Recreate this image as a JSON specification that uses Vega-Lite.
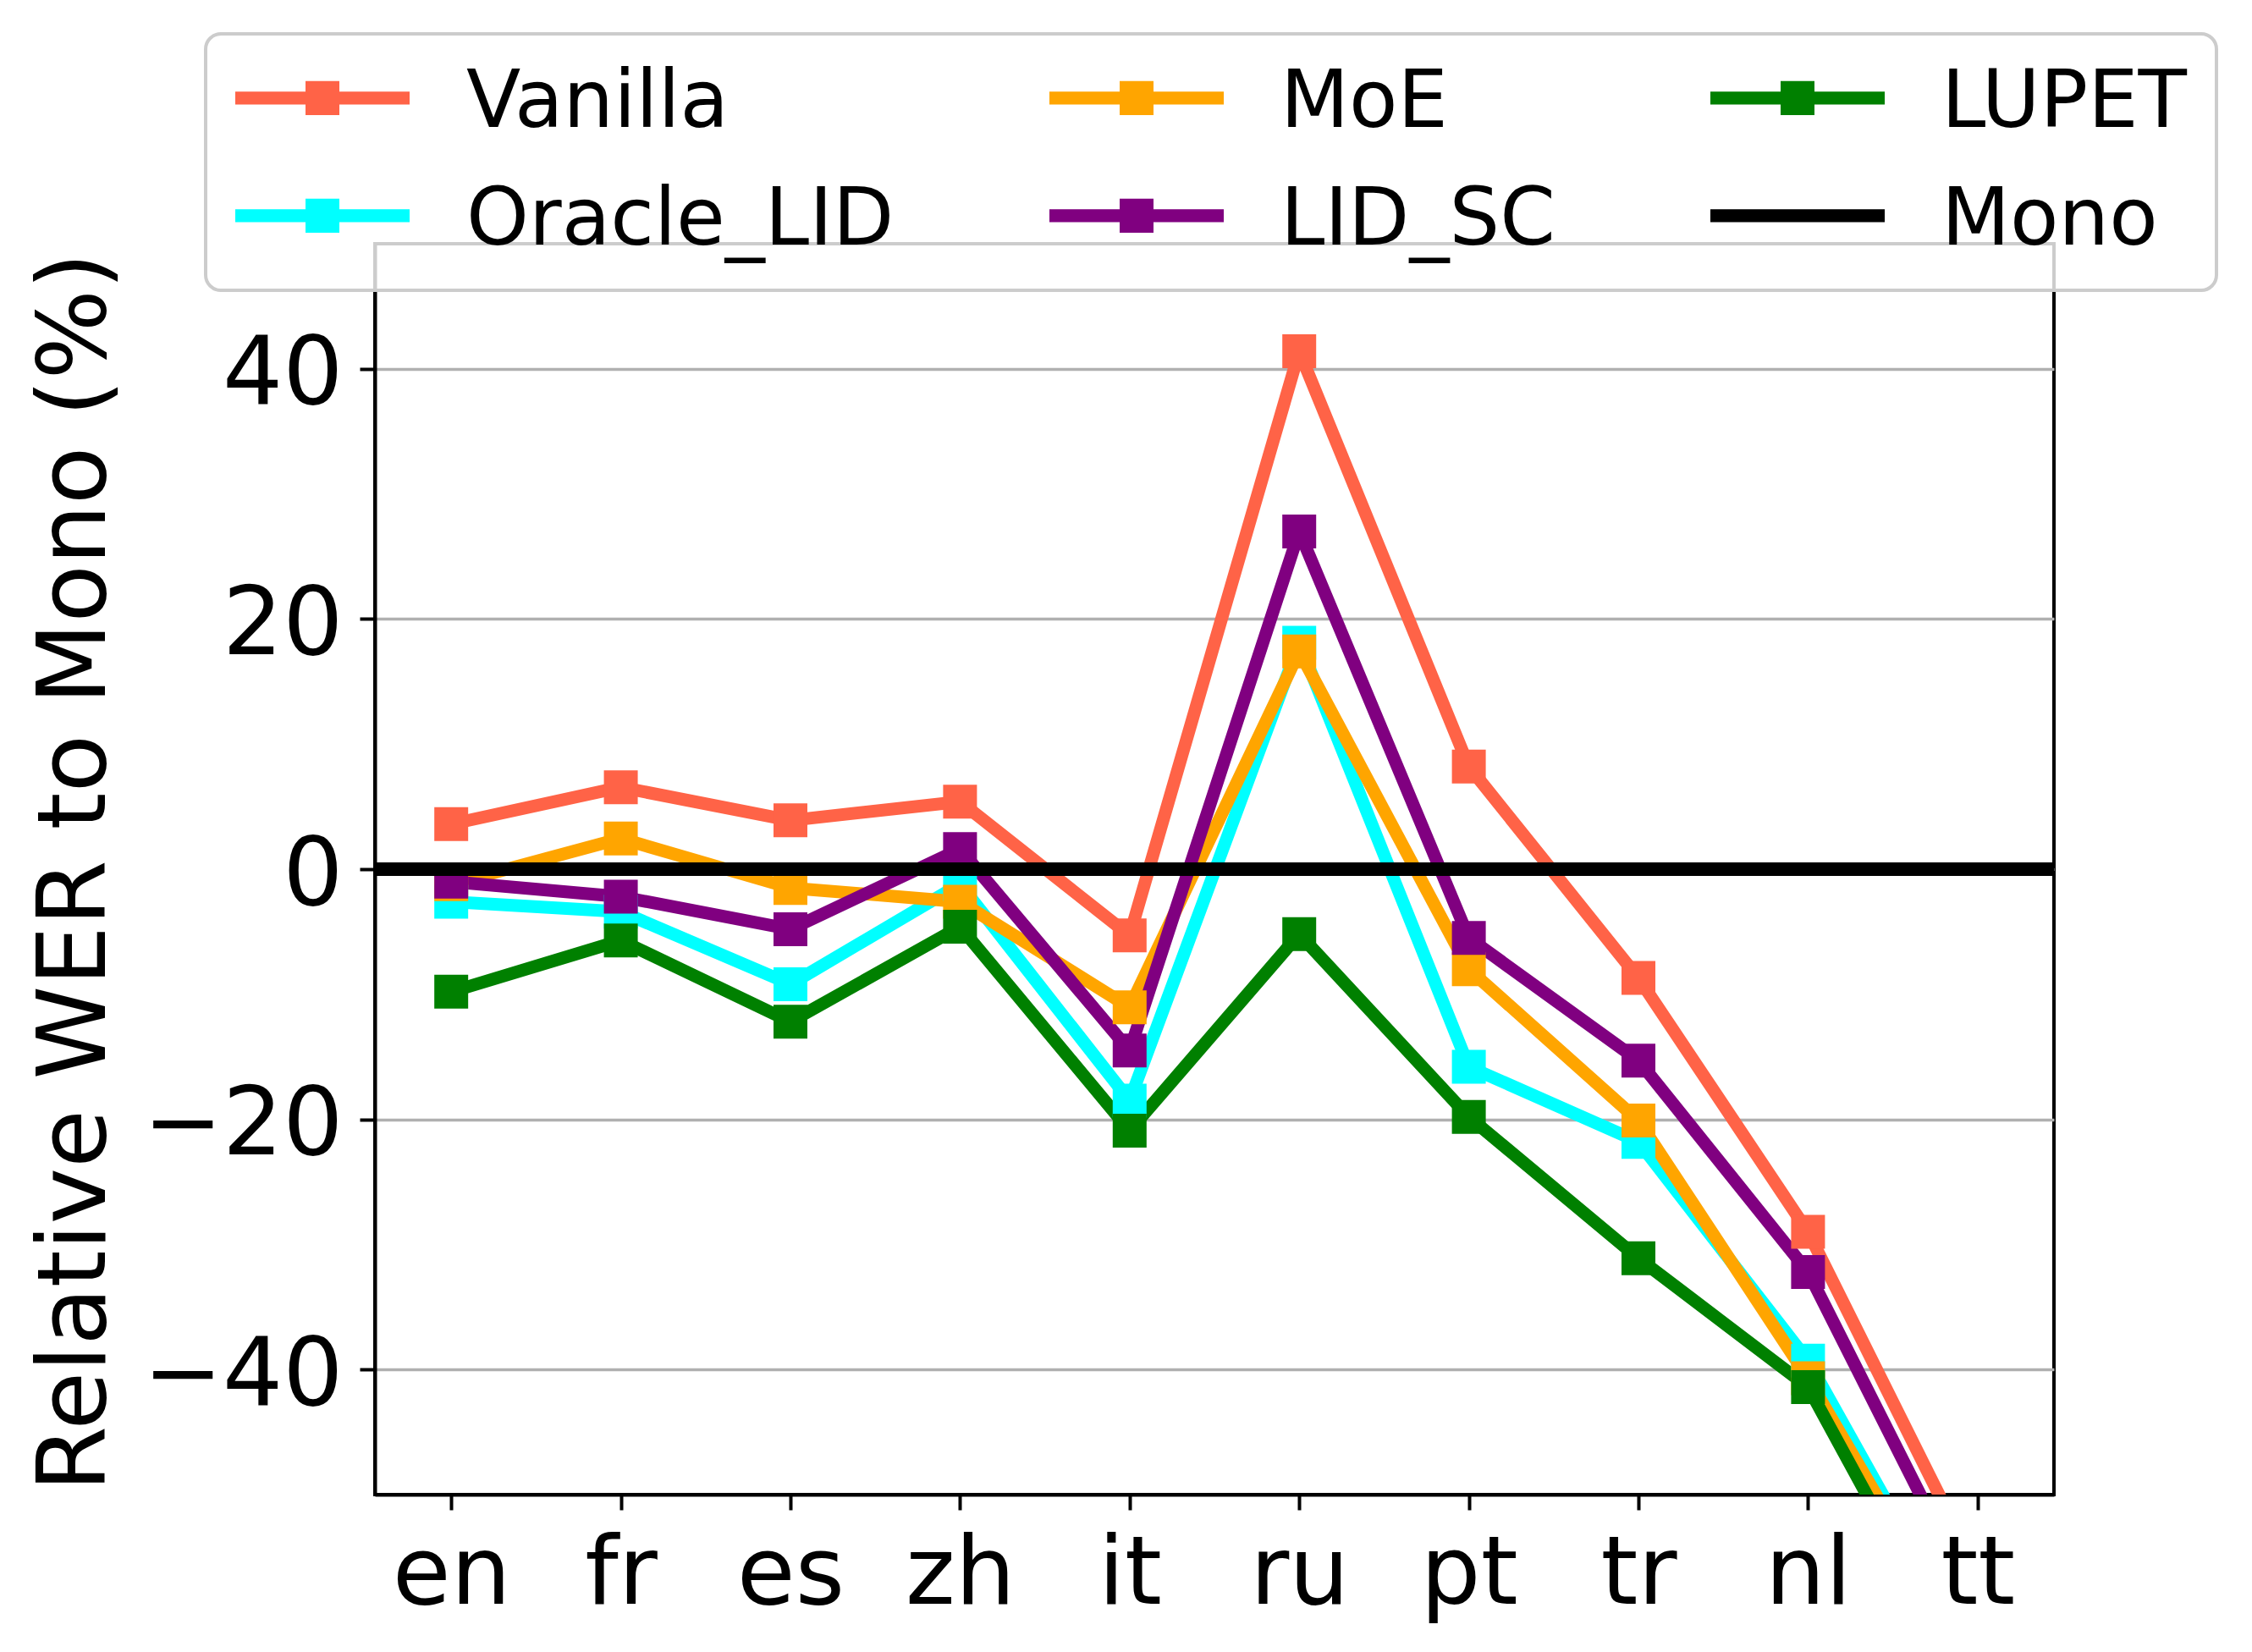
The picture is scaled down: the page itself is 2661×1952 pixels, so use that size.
{
  "$schema": "https://vega.github.io/schema/vega-lite/v6.json",
  "width": 1984,
  "height": 1478,
  "autosize": {"type": "none"},
  "padding": {"left": 443, "top": 288, "right": 234, "bottom": 186},
  "background": "white",
  "config": {
    "font": "DejaVu Sans",
    "view": {"stroke": "black", "strokeWidth": 4},
    "axis": {
      "labelFont": "DejaVu Sans",
      "labelFontSize": 112,
      "labelColor": "black",
      "labelLimit": 1000,
      "titleFont": "DejaVu Sans",
      "titleFontSize": 112,
      "titleFontWeight": "normal",
      "titleColor": "black",
      "titleLimit": 3000,
      "domainColor": "black",
      "domainWidth": 4,
      "tickColor": "black",
      "tickWidth": 4,
      "tickSize": 18
    }
  },
  "datasets": {
    "wer": [
      {"lang": "en", "series": "Vanilla", "v": 3.6},
      {"lang": "fr", "series": "Vanilla", "v": 6.55},
      {"lang": "es", "series": "Vanilla", "v": 3.9},
      {"lang": "zh", "series": "Vanilla", "v": 5.4},
      {"lang": "it", "series": "Vanilla", "v": -5.3},
      {"lang": "ru", "series": "Vanilla", "v": 41.4},
      {"lang": "pt", "series": "Vanilla", "v": 8.2},
      {"lang": "tr", "series": "Vanilla", "v": -8.7},
      {"lang": "nl", "series": "Vanilla", "v": -29.0},
      {"lang": "tt", "series": "Vanilla", "v": -56.2},
      {"lang": "en", "series": "Oracle_LID", "v": -2.6},
      {"lang": "fr", "series": "Oracle_LID", "v": -3.4},
      {"lang": "es", "series": "Oracle_LID", "v": -9.2},
      {"lang": "zh", "series": "Oracle_LID", "v": -1.2},
      {"lang": "it", "series": "Oracle_LID", "v": -18.5},
      {"lang": "ru", "series": "Oracle_LID", "v": 18.1},
      {"lang": "pt", "series": "Oracle_LID", "v": -15.8},
      {"lang": "tr", "series": "Oracle_LID", "v": -21.8},
      {"lang": "nl", "series": "Oracle_LID", "v": -39.3},
      {"lang": "tt", "series": "Oracle_LID", "v": -63.6},
      {"lang": "en", "series": "MoE", "v": -1.2},
      {"lang": "fr", "series": "MoE", "v": 2.45},
      {"lang": "es", "series": "MoE", "v": -1.5},
      {"lang": "zh", "series": "MoE", "v": -2.6},
      {"lang": "it", "series": "MoE", "v": -11.05},
      {"lang": "ru", "series": "MoE", "v": 17.4},
      {"lang": "pt", "series": "MoE", "v": -8.0},
      {"lang": "tr", "series": "MoE", "v": -20.1},
      {"lang": "nl", "series": "MoE", "v": -40.7},
      {"lang": "tt", "series": "MoE", "v": -63.9},
      {"lang": "en", "series": "LID_SC", "v": -1.0},
      {"lang": "fr", "series": "LID_SC", "v": -2.2},
      {"lang": "es", "series": "LID_SC", "v": -4.8},
      {"lang": "zh", "series": "LID_SC", "v": 1.6},
      {"lang": "it", "series": "LID_SC", "v": -14.5},
      {"lang": "ru", "series": "LID_SC", "v": 27.0},
      {"lang": "pt", "series": "LID_SC", "v": -5.5},
      {"lang": "tr", "series": "LID_SC", "v": -15.3},
      {"lang": "nl", "series": "LID_SC", "v": -32.2},
      {"lang": "tt", "series": "LID_SC", "v": -59.1},
      {"lang": "en", "series": "LUPET", "v": -9.8},
      {"lang": "fr", "series": "LUPET", "v": -5.7},
      {"lang": "es", "series": "LUPET", "v": -12.2},
      {"lang": "zh", "series": "LUPET", "v": -4.6},
      {"lang": "it", "series": "LUPET", "v": -20.9},
      {"lang": "ru", "series": "LUPET", "v": -5.2},
      {"lang": "pt", "series": "LUPET", "v": -19.8},
      {"lang": "tr", "series": "LUPET", "v": -31.1},
      {"lang": "nl", "series": "LUPET", "v": -41.4},
      {"lang": "tt", "series": "LUPET", "v": -66.3}
    ],
    "mono": [{"series": "Mono", "v": 0}]
  },
  "layer": [
    {
      "data": {"name": "wer"},
      "mark": {"type": "line", "strokeWidth": 15, "strokeJoin": "round", "clip": true},
      "encoding": {
        "x": {
          "field": "lang",
          "type": "ordinal",
          "sort": ["en", "fr", "es", "zh", "it", "ru", "pt", "tr", "nl", "tt"],
          "scale": {"type": "point", "padding": 0.45},
          "axis": {"title": null, "labelAngle": 0, "labelPadding": 22, "grid": false}
        },
        "y": {
          "field": "v",
          "type": "quantitative",
          "scale": {"domain": [-50, 50], "nice": false},
          "axis": {
            "title": "Relative WER to Mono (%)",
            "values": [-40, -20, 0, 20, 40],
            "grid": true,
            "gridColor": "#b0b0b0",
            "gridWidth": 3.3,
            "labelPadding": 20,
            "labelOffset": 7,
            "labelFlush": false,
            "titleX": -320,
            "titleY": 742,
            "titleAngle": -90,
            "titleAlign": "center",
            "titleBaseline": "alphabetic"
          }
        },
        "color": {
          "field": "series",
          "type": "nominal",
          "scale": {
            "domain": ["Vanilla", "Oracle_LID", "MoE", "LID_SC", "LUPET", "Mono"],
            "range": ["#ff6347", "#00ffff", "#ffa500", "#800080", "#008000", "#000000"]
          },
          "legend": {
            "title": null,
            "orient": "none",
            "legendX": -200,
            "legendY": -248,
            "columns": 3,
            "padding": 35,
            "rowPadding": 45,
            "columnPadding": 183,
            "labelFont": "DejaVu Sans",
            "labelFontSize": 94,
            "labelColor": "black",
            "labelLimit": 2000,
            "labelOffset": 179,
            "symbolSize": 8836,
            "symbolStrokeWidth": 0,
            "symbolOpacity": 1,
            "fillColor": "rgba(255,255,255,0.8)",
            "strokeColor": "#cccccc",
            "cornerRadius": 18,
            "encode": {
              "legend": {
                "update": {"strokeWidth": {"value": 4}}
              },
              "symbols": {
                "update": {
                  "shape": {"signal": "datum.value === 'Mono' ? 'M-1,-0.29L3.383,-0.29L3.383,0.03L-1,0.03Z' : 'M-1,-0.29L3.383,-0.29L3.383,0.03L-1,0.03Z M0.766,-0.556L1.617,-0.556L1.617,0.296L0.766,0.296Z'"},
                  "fill": {"scale": "color", "field": "value"},
                  "stroke": {"value": "transparent"},
                  "strokeWidth": {"value": 0},
                  "opacity": {"value": 1}
                }
              }
            }
          }
        }
      }
    },
    {
      "data": {"name": "wer"},
      "mark": {"type": "point", "shape": "square", "size": 1600, "filled": true, "opacity": 1, "clip": true},
      "encoding": {
        "x": {
          "field": "lang",
          "type": "ordinal",
          "sort": ["en", "fr", "es", "zh", "it", "ru", "pt", "tr", "nl", "tt"],
          "scale": {"type": "point", "padding": 0.45}
        },
        "y": {"field": "v", "type": "quantitative", "scale": {"domain": [-50, 50], "nice": false}},
        "color": {
          "field": "series",
          "type": "nominal",
          "scale": {
            "domain": ["Vanilla", "Oracle_LID", "MoE", "LID_SC", "LUPET", "Mono"],
            "range": ["#ff6347", "#00ffff", "#ffa500", "#800080", "#008000", "#000000"]
          }
        }
      }
    },
    {
      "data": {"name": "mono"},
      "mark": {"type": "rule", "strokeWidth": 16},
      "encoding": {
        "y": {"field": "v", "type": "quantitative", "scale": {"domain": [-50, 50], "nice": false}},
        "color": {
          "field": "series",
          "type": "nominal",
          "scale": {
            "domain": ["Vanilla", "Oracle_LID", "MoE", "LID_SC", "LUPET", "Mono"],
            "range": ["#ff6347", "#00ffff", "#ffa500", "#800080", "#008000", "#000000"]
          }
        }
      }
    }
  ]
}
